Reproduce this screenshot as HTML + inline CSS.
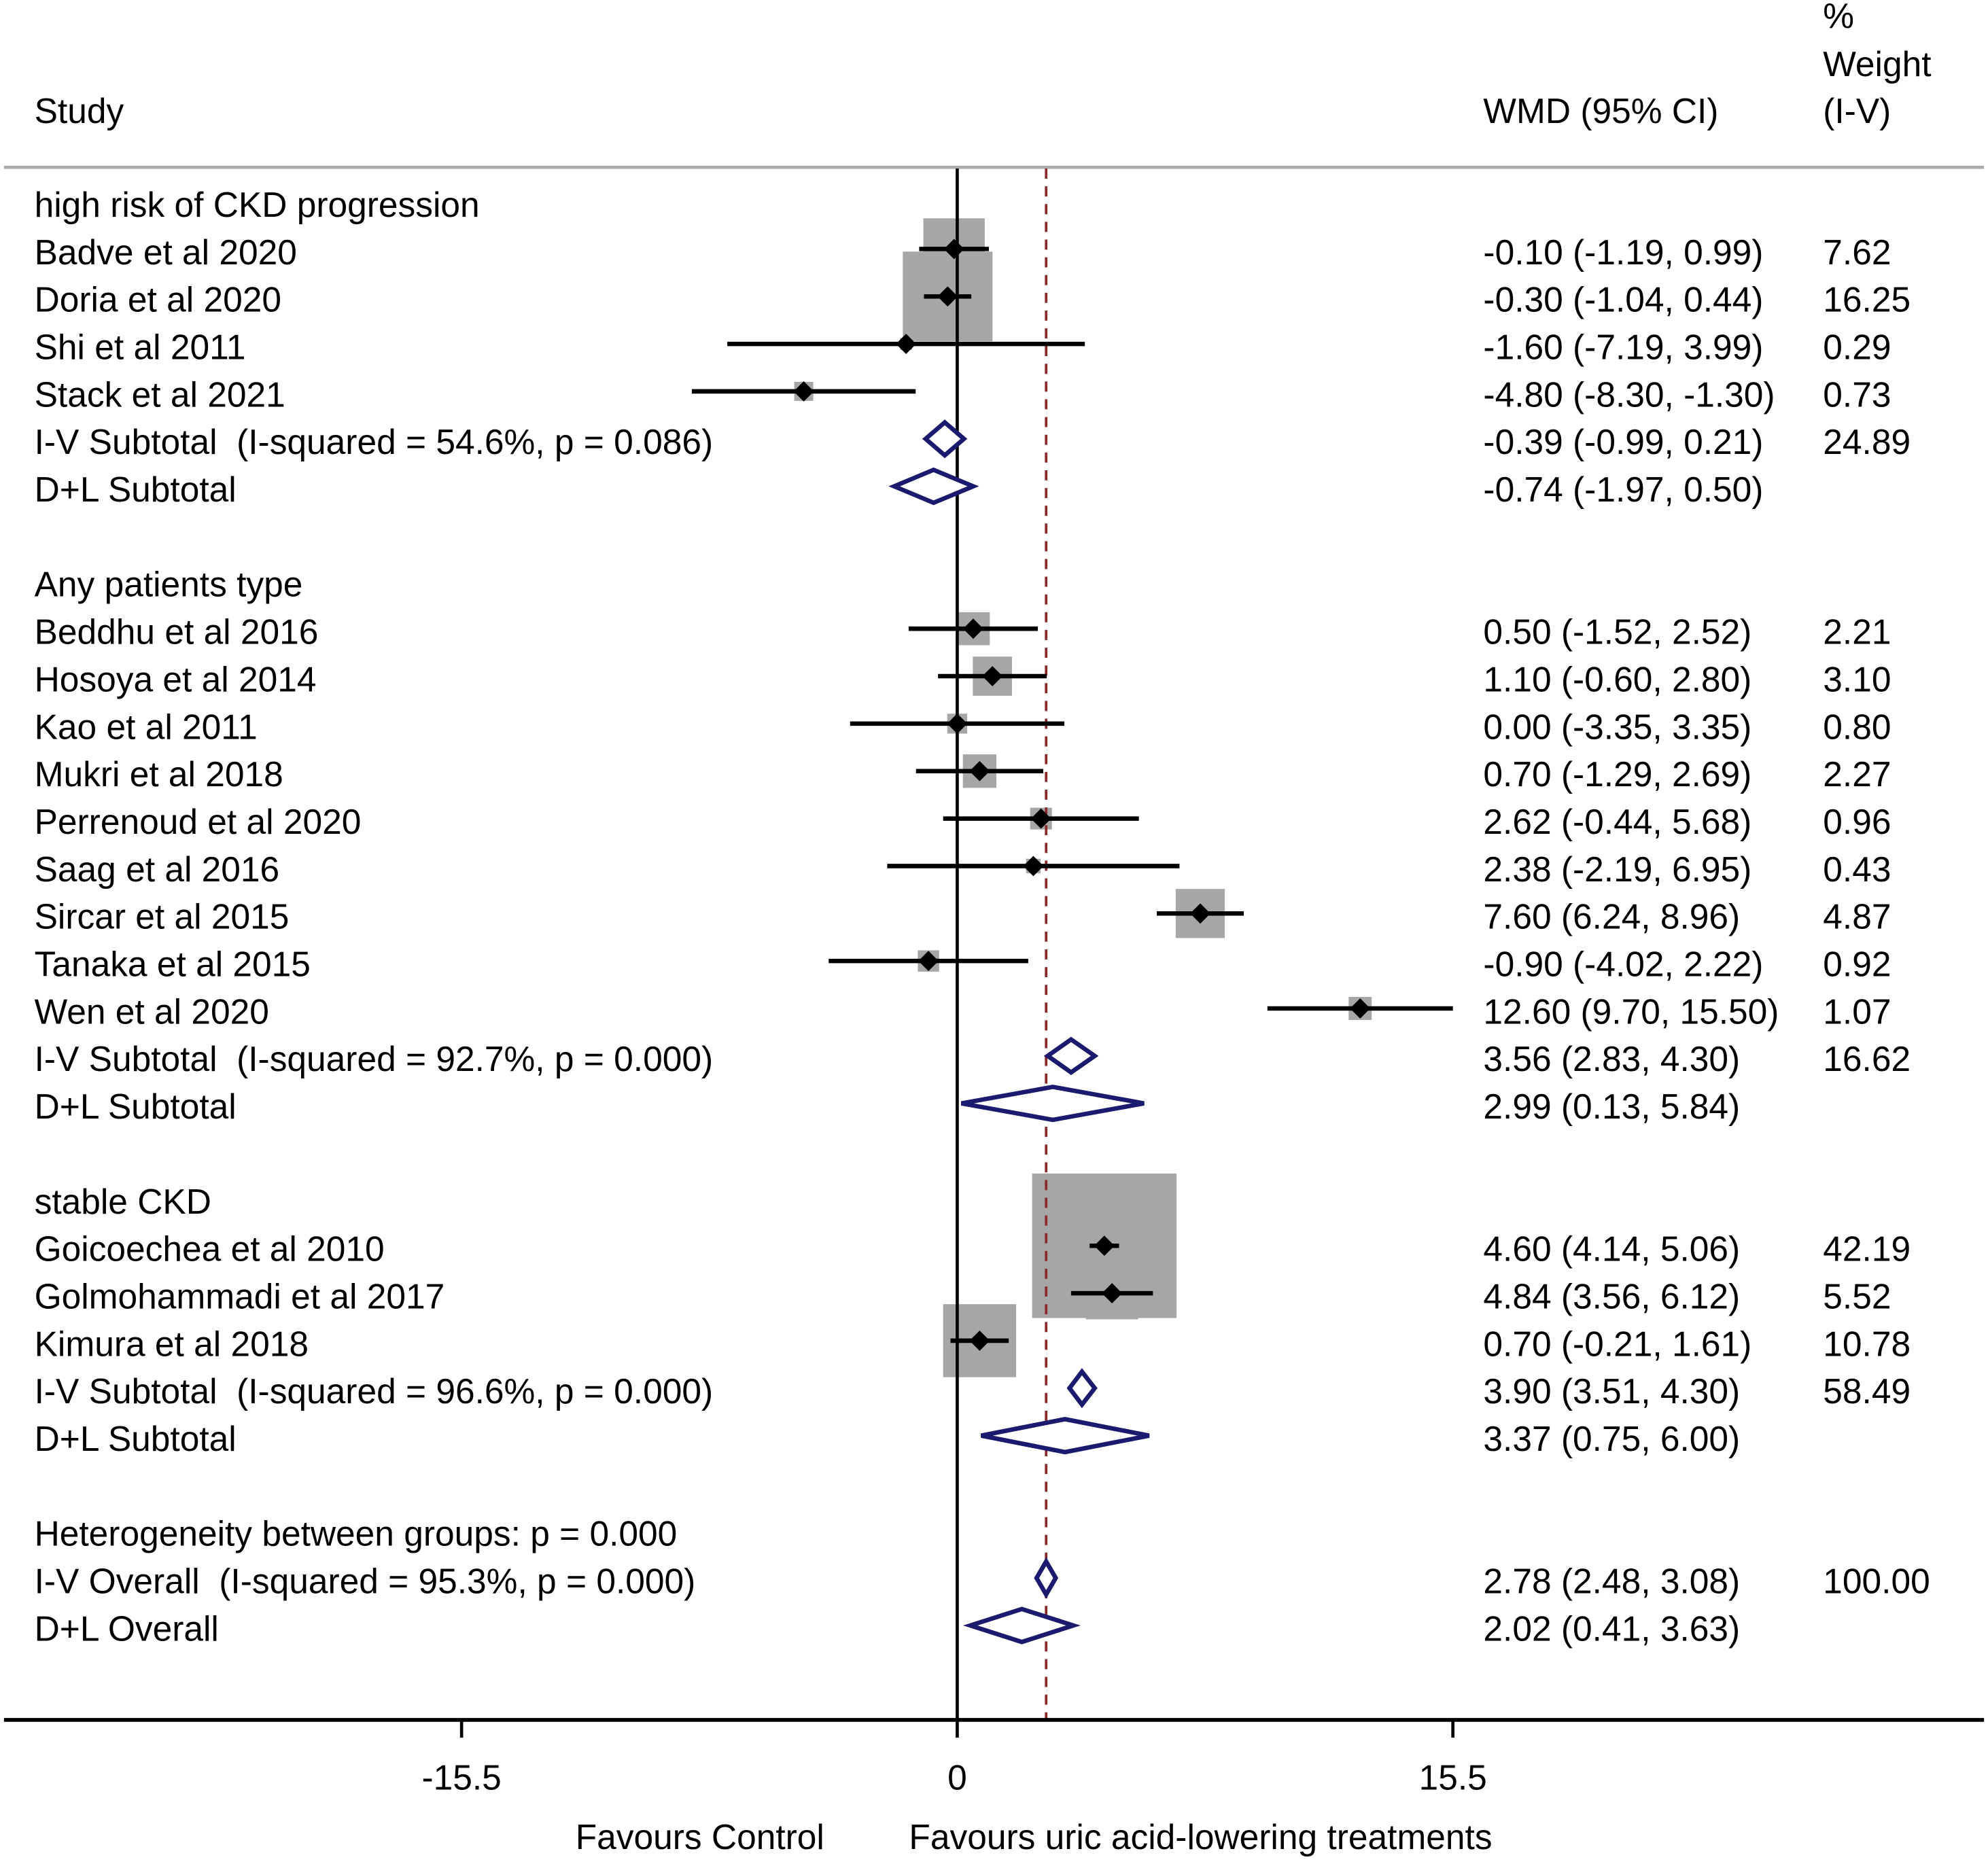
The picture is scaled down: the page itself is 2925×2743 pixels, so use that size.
<!DOCTYPE html>
<html><head><meta charset="utf-8"><style>
html,body{margin:0;padding:0;background:#fff}
svg text{font-family:"Liberation Sans",Arial,sans-serif;font-size:27.6px;fill:#000;white-space:pre}
</style></head><body>
<svg id="chart" width="2925" height="2738" viewBox="0 0 1568 1468" xmlns="http://www.w3.org/2000/svg" xml:space="preserve">
<g id="g"></g>
</svg>
<script>
const rowLabels=["high risk of CKD progression","Badve et al 2020","Doria et al 2020","Shi et al 2011","Stack et al 2021","I-V Subtotal  (I-squared = 54.6%, p = 0.086)","D+L Subtotal","","Any patients type","Beddhu et al 2016","Hosoya et al 2014","Kao et al 2011","Mukri et al 2018","Perrenoud et al 2020","Saag et al 2016","Sircar et al 2015","Tanaka et al 2015","Wen et al 2020","I-V Subtotal  (I-squared = 92.7%, p = 0.000)","D+L Subtotal","","stable CKD","Goicoechea et al 2010","Golmohammadi et al 2017","Kimura et al 2018","I-V Subtotal  (I-squared = 96.6%, p = 0.000)","D+L Subtotal","","Heterogeneity between groups: p = 0.000","I-V Overall  (I-squared = 95.3%, p = 0.000)","D+L Overall"];
const rowType=["h","s","s","s","s","d","d","","h","s","s","s","s","s","s","s","s","s","d","d","","h","s","s","s","d","d","","h","d","d"];
const est=[null,-0.10,-0.30,-1.60,-4.80,-0.39,-0.74,null,null,0.50,1.10,0.00,0.70,2.62,2.38,7.60,-0.90,12.60,3.56,2.99,null,null,4.60,4.84,0.70,3.90,3.37,null,null,2.78,2.02];
const lo=[null,-1.19,-1.04,-7.19,-8.30,-0.99,-1.97,null,null,-1.52,-0.60,-3.35,-1.29,-0.44,-2.19,6.24,-4.02,9.70,2.83,0.13,null,null,4.14,3.56,-0.21,3.51,0.75,null,null,2.48,0.41];
const hi=[null,0.99,0.44,3.99,-1.30,0.21,0.50,null,null,2.52,2.80,3.35,2.69,5.68,6.95,8.96,2.22,15.50,4.30,5.84,null,null,5.06,6.12,1.61,4.30,6.00,null,null,3.08,3.63];
const weights=[null,7.62,16.25,0.29,0.73,24.89,null,null,null,2.21,3.10,0.80,2.27,0.96,0.43,4.87,0.92,1.07,16.62,null,null,null,42.19,5.52,10.78,58.49,null,null,null,100.00,null];
const xTicks=[-15.5,0,15.5];
const overall=2.78;
const NS="http://www.w3.org/2000/svg",g=document.getElementById('g');
const X=v=>755+v*(391/15.5);
const Y=i=>162+i*37.45;
function el(t,a,txt){const e=document.createElementNS(NS,t);for(const k in a)e.setAttribute(k,a[k]);if(txt!=null)e.textContent=txt;g.appendChild(e);return e;}
const f2=v=>v.toFixed(2);
let e;
e=el('text',{x:27,y:97},'Study');
e=el('text',{x:1170,y:97},'WMD (95% CI)');
e=el('text',{x:1438,y:22},'%');
e=el('text',{x:1438,y:60},'Weight');
e=el('text',{x:1438,y:97},'(I-V)');
e=el('line',{x1:3,x2:1565,y1:132,y2:132,stroke:'#aaa','stroke-width':2.5});
for(let i=0;i<rowLabels.length;i++){
 if(rowType[i]==='s'){const s=114*Math.sqrt(weights[i]/42.19);
  e=el('rect',{x:X(est[i])-s/2,y:Y(i)-s/2-3,width:s,height:s,fill:'#a6a6a6'});}
}
e=el('line',{x1:755,x2:755,y1:133,y2:1357,stroke:'#000','stroke-width':2.5});
e=el('line',{x1:X(overall),x2:X(overall),y1:133,y2:1357,stroke:'#8b2a2a','stroke-width':2,'stroke-dasharray':'8,6'});
for(let i=0;i<rowLabels.length;i++){
 const y=Y(i);
 if(rowLabels[i]){e=el('text',{x:27,y:y+9},rowLabels[i]);}
 if(est[i]!=null){e=el('text',{x:1170,y:y+9},f2(est[i])+' ('+f2(lo[i])+', '+f2(hi[i])+')');}
 if(weights[i]!=null){e=el('text',{x:1438,y:y+9},f2(weights[i]));}
 if(rowType[i]==='s'){
  const yy=y-3;
  e=el('line',{x1:X(lo[i]),x2:X(hi[i]),y1:yy,y2:yy,stroke:'#000','stroke-width':3.5});
  const cx=X(est[i]);
  e=el('polygon',{points:`${cx-8},${yy} ${cx},${yy-8} ${cx+8},${yy} ${cx},${yy+8}`,fill:'#000'});
 }else if(rowType[i]==='d'){
  const yy=y-3;
  e=el('polygon',{points:`${X(lo[i])},${yy} ${X(est[i])},${yy-13} ${X(hi[i])},${yy} ${X(est[i])},${yy+13}`,fill:'#fff',stroke:'#1a1a6e','stroke-width':3.5});
 }
}
e=el('line',{x1:3,x2:1565,y1:1357,y2:1357,stroke:'#000','stroke-width':3});
xTicks.forEach(t=>{
 e=el('line',{x1:X(t),x2:X(t),y1:1357,y2:1371,stroke:'#000','stroke-width':2.5});
 e=el('text',{x:X(t),y:1412,'text-anchor':'middle'},String(t));
});
e=el('text',{x:552,y:1459,'text-anchor':'middle'},'Favours Control');
e=el('text',{x:947,y:1459,'text-anchor':'middle'},'Favours uric acid-lowering treatments');
</script>
</body></html>
